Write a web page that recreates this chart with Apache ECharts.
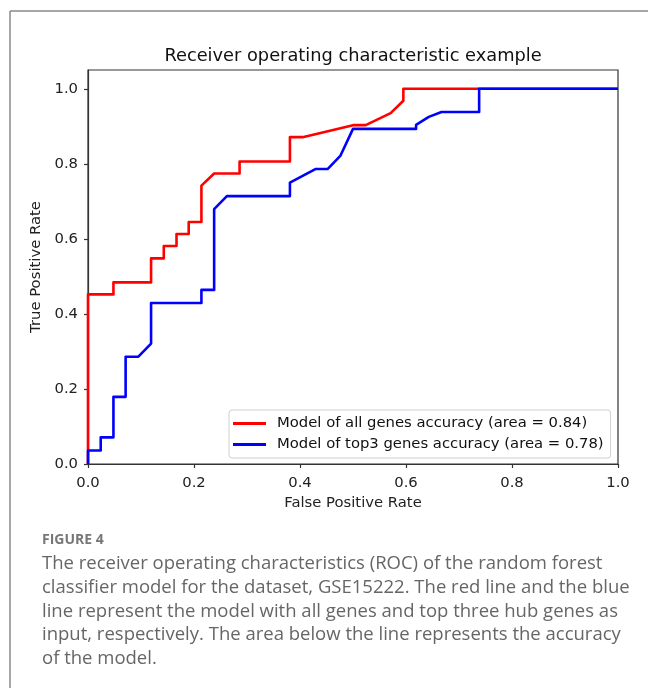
<!DOCTYPE html>
<html>
<head>
<meta charset="utf-8">
<script src="https://cdn.jsdelivr.net/npm/echarts@6/dist/echarts.min.js"></script>
<style>
html,body{margin:0;padding:0;background:#fff;}
#chart{width:648px;height:688px;}
</style>
</head>
<body>
<div id="chart"></div>
<script>
// ---- data ----
const titleText = 'Receiver operating characteristic example';
const xAxisName = 'False Positive Rate';
const yAxisName = 'True Positive Rate';
const seriesNames = ['Model of all genes accuracy (area = 0.84)', 'Model of top3 genes accuracy (area = 0.78)'];
const tickValues = [0, 0.2, 0.4, 0.6, 0.8, 1.0];

const redX = [0, 0, 0.048, 0.048, 0.119, 0.119, 0.143, 0.143, 0.167, 0.167, 0.190, 0.190, 0.214, 0.214, 0.238, 0.286, 0.286, 0.381, 0.381, 0.405, 0.500, 0.524, 0.571, 0.595, 0.595, 1.0];
const redY = [0, 0.452, 0.452, 0.484, 0.484, 0.548, 0.548, 0.581, 0.581, 0.613, 0.613, 0.645, 0.645, 0.742, 0.774, 0.774, 0.806, 0.806, 0.871, 0.871, 0.903, 0.903, 0.935, 0.968, 1.0, 1.0];

const blueX = [0, 0, 0.024, 0.024, 0.048, 0.048, 0.071, 0.071, 0.095, 0.119, 0.119, 0.214, 0.214, 0.238, 0.238, 0.262, 0.381, 0.381, 0.429, 0.452, 0.476, 0.500, 0.619, 0.619, 0.643, 0.667, 0.738, 0.738, 1.0];
const blueY = [0, 0.036, 0.036, 0.071, 0.071, 0.179, 0.179, 0.286, 0.286, 0.321, 0.429, 0.429, 0.464, 0.464, 0.679, 0.714, 0.714, 0.750, 0.786, 0.786, 0.821, 0.893, 0.893, 0.904, 0.925, 0.938, 0.938, 1.0, 1.0];

const captionHead = 'FIGURE 4';
const captionLines = [
  'The receiver operating characteristics (ROC) of the random forest',
  'classifier model for the dataset, GSE15222. The red line and the blue',
  'line represent the model with all genes and top three hub genes as',
  'input, respectively. The area below the line represents the accuracy',
  'of the model.'
];

// ---- chart ----
const pair = (xs, ys) => xs.map((x, i) => [x, ys[i]]);
const FONT = 'DejaVu Sans';
const FS = 14.8;
const chart = echarts.init(document.getElementById('chart'), null, {renderer: 'canvas'});

const axisCommon = {
  type: 'value',
  splitLine: {show: false},
  axisLine: {show: true, onZero: false, lineStyle: {color: '#333', width: 1.2}},
  axisTick: {show: true, inside: false, length: 4, lineStyle: {color: '#333', width: 1.2}, customValues: tickValues},
  nameLocation: 'middle',
  nameTextStyle: {fontFamily: FONT, fontSize: FS, color: '#222'}
};

chart.setOption({
  animation: false,
  backgroundColor: '#fff',
  grid: {left: 88, right: 30, top: 70, bottom: 224, show: true, borderColor: '#333', borderWidth: 1.2, backgroundColor: 'transparent'},
  xAxis: Object.assign({}, axisCommon, {
    min: 0, max: 1, interval: 0.2,
    name: xAxisName, nameGap: 30,
    axisLabel: {customValues: tickValues, fontFamily: FONT, fontSize: FS, color: '#222', margin: 12, formatter: v => v.toFixed(1)}
  }),
  yAxis: Object.assign({}, axisCommon, {
    min: 0, max: 1.05,
    name: yAxisName, nameGap: 42,
    axisLabel: {customValues: tickValues, fontFamily: FONT, fontSize: FS, color: '#222', margin: 10, formatter: v => v.toFixed(1)}
  }),
  legend: {
    orient: 'vertical',
    left: 229, top: 410,
    backgroundColor: '#fff',
    borderColor: '#d0d0d0', borderWidth: 1, borderRadius: 3,
    padding: [6, 7, 6, 4],
    itemGap: 6,
    itemWidth: 33, itemHeight: 3,
    icon: 'rect',
    textStyle: {fontFamily: FONT, fontSize: FS, color: '#111', padding: [0, 0, 0, 6]},
    data: seriesNames
  },
  series: [
    {name: seriesNames[0], type: 'line', data: pair(redX, redY), showSymbol: false, color: '#ff0000',
     lineStyle: {color: '#ff0000', width: 2.6, join: 'round'}, clip: true, z: 2},
    {name: seriesNames[1], type: 'line', data: pair(blueX, blueY), showSymbol: false, color: '#0000ff',
     lineStyle: {color: '#0000ff', width: 2.6, join: 'round'}, clip: true, z: 3}
  ],
  graphic: [
    {type: 'line', shape: {x1: 10, y1: 11, x2: 648, y2: 11}, style: {stroke: '#8a8a8a', lineWidth: 1.5}, silent: true},
    {type: 'line', shape: {x1: 10, y1: 11, x2: 10, y2: 688}, style: {stroke: '#8a8a8a', lineWidth: 1.5}, silent: true},
    {type: 'text', x: 353, y: 56, style: {text: titleText, font: '17.8px "DejaVu Sans"', fill: '#111', textAlign: 'center', textVerticalAlign: 'middle'}, silent: true},
    {type: 'text', x: 42, y: 540, style: {text: captionHead, font: 'bold 14px "Open Sans"', fill: '#777', textAlign: 'left', textVerticalAlign: 'middle'}, silent: true},
    {type: 'text', x: 42, y: 552, style: {text: captionLines.join('\n'), font: '18.5px "Open Sans"', lineHeight: 23.7, fill: '#666', textAlign: 'left', textVerticalAlign: 'top'}, silent: true}
  ]
});
</script>
</body>
</html>
